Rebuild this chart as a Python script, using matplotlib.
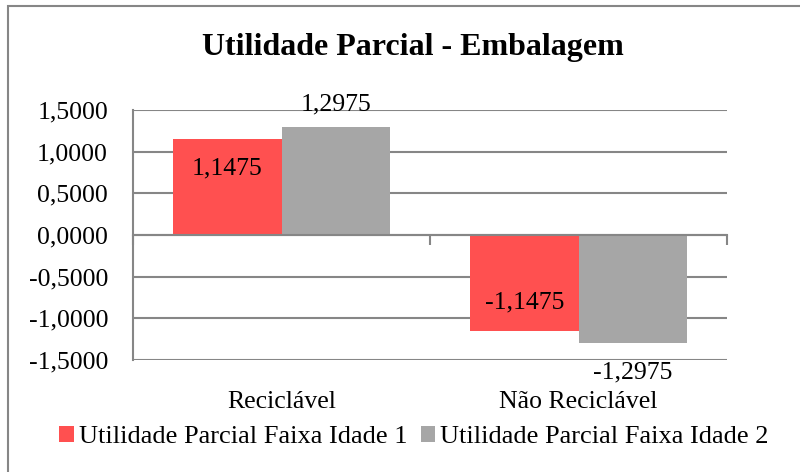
import matplotlib
matplotlib.use("Agg")
import matplotlib.pyplot as plt
from matplotlib.patches import Rectangle
import matplotlib.transforms as mtransforms
import numpy as np

categories = ["Reciclável", "Não Reciclável"]
series_names = ["Utilidade Parcial Faixa Idade 1", "Utilidade Parcial Faixa Idade 2"]
faixa1 = [1.1475, -1.1475]
faixa2 = [1.2975, -1.2975]
yticks = [-1.5, -1.0, -0.5, 0.0, 0.5, 1.0, 1.5]
title = "Utilidade Parcial - Embalagem"

RED = "#FF5050"
GRAY = "#A6A6A6"
LINE = "#868686"

plt.rcParams["font.family"] = ["Liberation Serif", "DejaVu Serif"]

fig = plt.figure(figsize=(8, 4.72), dpi=100)
ax = fig.add_axes([133 / 800, 1 - 360 / 472, 594 / 800, 250 / 472])

x = np.arange(len(categories))
w = 0.364
b1 = ax.bar(x - w / 2, faixa1, w, color=RED, label=series_names[0], zorder=3)
b2 = ax.bar(x + w / 2, faixa2, w, color=GRAY, label=series_names[1], zorder=3)

ax.set_xlim(-0.5, len(categories) - 0.5)
ax.set_ylim(yticks[0], yticks[-1])
ax.set_yticks(yticks)
ax.set_yticklabels([f"{v:.4f}".replace(".", ",") for v in yticks], fontsize=18.5)
ax.tick_params(axis="y", length=0, pad=18)
ax.yaxis.grid(True, color=LINE, linewidth=1.5, zorder=0)

for s in ["top", "right"]:
    ax.spines[s].set_visible(False)
ax.spines["left"].set_color(LINE)
ax.spines["left"].set_linewidth(1.5)
ax.spines["bottom"].set_position(("data", 0))
ax.spines["bottom"].set_color(LINE)
ax.spines["bottom"].set_linewidth(1.5)
ax.spines["bottom"].set_zorder(4)
ax.set_xticks(np.arange(len(categories) + 1) - 0.5)
ax.set_xticklabels([])
ax.tick_params(axis="x", direction="out", length=7, width=1.5, color=LINE)

trans = mtransforms.blended_transform_factory(ax.transData, ax.transAxes)
for xi, c in zip(x, categories):
    ax.text(xi, -0.168, c, transform=trans, ha="center", va="center", fontsize=18.5)

def fmt(v):
    return f"{v:.4f}".replace(".", ",")

# data labels: series 1 inside end, series 2 outside end
for rect, v in zip(b1, faixa1):
    cx = rect.get_x() + rect.get_width() / 2
    off = -21 if v > 0 else 20
    ax.annotate(fmt(v), (cx, v), xytext=(0, off), textcoords="offset points",
                ha="center", va="center", fontsize=18.5, zorder=5)
for rect, v in zip(b2, faixa2):
    cx = rect.get_x() + rect.get_width() / 2
    off = 16 if v > 0 else -21
    ax.annotate(fmt(v), (cx, v), xytext=(0, off), textcoords="offset points",
                ha="center", va="center", fontsize=18.5, zorder=5, annotation_clip=False)

fig.text(413 / 800, 1 - 47 / 472, title, ha="center", va="center", fontsize=23, fontweight="bold")

fig.legend(handles=[b1, b2], labels=series_names, loc="center",
           bbox_to_anchor=(414 / 800, 1 - 437 / 472), ncol=2, frameon=False,
           fontsize=19, handlelength=0.55, handleheight=0.55, handletextpad=0.2,
           columnspacing=0.5, borderaxespad=0, borderpad=0)

fig.patches.append(Rectangle((8 / 800, -0.1), 1.2, 1.1 - 6 / 472, transform=fig.transFigure,
                             fill=False, edgecolor=LINE, linewidth=1.5))

fig.savefig("out.png", dpi=100)
